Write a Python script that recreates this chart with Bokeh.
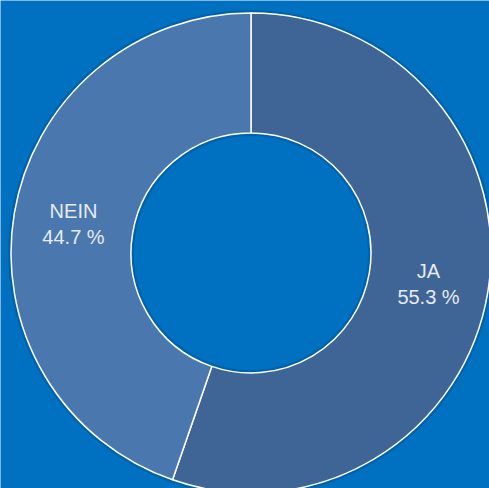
import math
from bokeh.plotting import figure
from bokeh.models import Range1d, ColumnDataSource
from bokeh.core.properties import value
from bokeh.embed import file_html
from bokeh.resources import INLINE

labels = ["JA", "NEIN"]
percents = [55.3, 44.7]
colors = ["#3e6595", "#4a78ae"]

BG = "#0070c0"
R_OUT = 240
R_IN = 120
R_LABEL = 180

# angles: start at top, go clockwise
starts, ends, lx, ly, names, vals = [], [], [], [], [], []
cum = 0.0
for lab, pct in zip(labels, percents):
    a0 = math.pi / 2 - 2 * math.pi * cum / 100.0
    a1 = math.pi / 2 - 2 * math.pi * (cum + pct) / 100.0
    starts.append(a0)
    ends.append(a1)
    mid = (a0 + a1) / 2
    lx.append(R_LABEL * math.cos(mid))
    ly.append(R_LABEL * math.sin(mid))
    names.append(lab)
    vals.append(f"{pct:.1f} %")
    cum += pct

src = ColumnDataSource(dict(start=starts, end=ends, color=colors,
                            lx=lx, ly=ly, name=names, val=vals))

W, H = 489, 488
CX, CY = 250.5, 252.5
p = figure(width=W, height=H, output_backend="svg", toolbar_location=None,
           x_range=Range1d(-CX, W - CX), y_range=Range1d(-(H - CY), CY),
           min_border=0)
p.axis.visible = False
p.grid.visible = False
p.outline_line_color = None
p.background_fill_color = BG
p.border_fill_color = BG

# subtle shadows
p.annulus(x=0, y=0, inner_radius=R_OUT, outer_radius=R_OUT + 3,
          fill_color="black", fill_alpha=0.12, line_color=None)
p.annulus(x=0, y=0, inner_radius=R_IN - 3, outer_radius=R_IN,
          fill_color="black", fill_alpha=0.12, line_color=None)

p.annular_wedge(x=0, y=0, inner_radius=R_IN, outer_radius=R_OUT,
                start_angle="start", end_angle="end", direction="clock",
                fill_color="color", line_color="white", line_width=1.5,
                source=src)

p.text(x="lx", y="ly", text="name", source=src, text_align="center",
       text_baseline="middle", y_offset=-12, text_color="#e4ebf4",
       text_font=value("Liberation Sans"), text_font_size="20px")
p.text(x="lx", y="ly", text="val", source=src, text_align="center",
       text_baseline="middle", y_offset=14, text_color="#e4ebf4",
       text_font=value("Liberation Sans"), text_font_size="20px")

html = file_html(p, INLINE)
html = html.replace("<body>", f'<body style="margin:0;background:{BG};">', 1)
open("out.html", "w").write(html)
